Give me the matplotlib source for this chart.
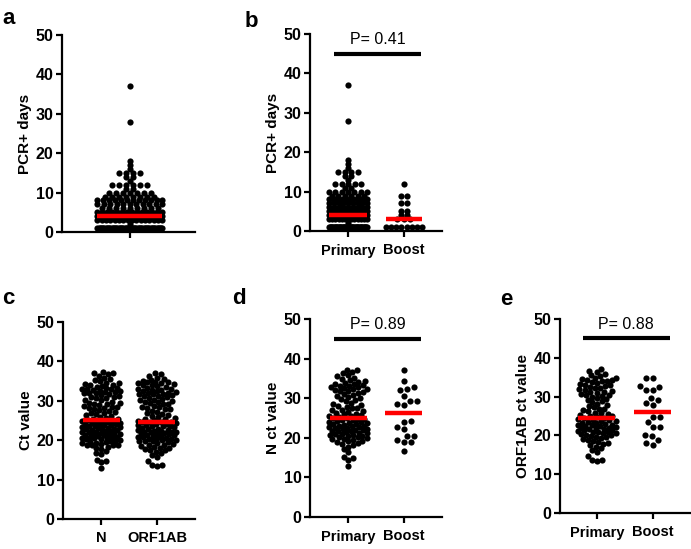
import numpy as np
import matplotlib
matplotlib.use("Agg")
import matplotlib.pyplot as plt

plt.rcParams['font.family'] = ['Liberation Sans', 'DejaVu Sans']

# ---------------- data ----------------
# PCR+ days (integer levels with counts)
pcr_levels = [1, 2, 3, 4, 5, 6, 7, 8, 9, 10, 11, 12, 13, 14, 15, 16, 17, 18, 28, 37]
pcr_primary_counts = [48, 1, 13, 15, 12, 9, 9, 12, 6, 7, 2, 5, 1, 2, 4, 1, 1, 1, 1, 1]
pcr_boost_counts = [8, 0, 3, 2, 2, 0, 2, 0, 2, 0, 0, 1, 0, 0, 0, 0, 0, 0, 0, 0]

n_ct_primary = [
    12.9, 14.5, 14.8, 15.1, 16.5, 17.2, 17.8, 18.1, 18.4, 18.7, 18.9,
    19.1, 19.3, 19.5, 19.6, 19.8, 19.9, 20.1, 20.2, 20.4, 20.5, 20.7, 20.8, 20.9,
    21.0, 21.2, 21.3, 21.4, 21.6, 21.7, 21.8, 21.9, 22.0, 22.2, 22.3, 22.4, 22.6,
    22.7, 22.8, 22.9, 23.0, 23.1, 23.3, 23.4, 23.6, 23.7, 23.8, 23.9,
    24.1, 24.2, 24.4, 24.5, 24.7, 24.8, 24.9,
    25.0, 25.2, 25.4, 25.5, 25.7, 25.9, 26.1, 26.3, 26.6, 26.8, 26.9,
    27.1, 27.4, 27.6, 27.9, 28.1, 28.4, 28.6, 28.9, 29.2, 29.5, 29.8,
    30.1, 30.3, 30.6, 30.9, 31.0, 31.3, 31.5, 31.7, 31.9,
    32.0, 32.2, 32.4, 32.6, 32.8, 32.9, 33.0, 33.2, 33.3, 33.5, 33.7, 33.9,
    34.1, 34.4, 34.6, 34.9, 35.2, 35.5, 35.8, 36.3, 36.7, 37.0, 37.2]
n_ct_boost = [37.0, 34.3, 32.9, 32.1, 32.2, 30.6, 29.4, 29.2, 28.2, 28.5,
              24.0, 24.3, 22.1, 22.8, 20.5, 20.5, 18.9, 19.4, 18.9, 16.7]

orf_ct_primary = [
    13.4, 13.6, 13.7, 14.6, 15.8, 16.3, 16.7, 17.1, 17.5, 17.8,
    18.0, 18.3, 18.6, 18.9, 19.0, 19.3, 19.5, 19.7, 19.9,
    20.0, 20.2, 20.3, 20.5, 20.6, 20.8, 20.9, 21.0, 21.1, 21.3, 21.4, 21.6, 21.7,
    21.8, 21.9, 22.0, 22.1, 22.3, 22.4, 22.6, 22.7, 22.8, 22.9,
    23.1, 23.3, 23.5, 23.6, 23.8, 23.9, 24.0, 24.2, 24.4, 24.5, 24.7, 24.9,
    25.1, 25.3, 25.5, 25.7, 25.9, 26.2, 26.5, 26.7, 26.9, 27.2, 27.5, 27.8,
    28.2, 28.5, 28.8, 29.1, 29.4, 29.6, 29.9, 30.1, 30.3, 30.5, 30.7, 30.9,
    31.1, 31.3, 31.5, 31.7, 31.9, 32.1, 32.3, 32.5, 32.7, 32.9,
    33.1, 33.3, 33.5, 33.7, 33.9, 34.0, 34.2, 34.4, 34.5, 34.7, 34.9,
    35.2, 35.5, 35.9, 36.3, 36.7, 37.0]
orf_ct_boost = [34.7, 34.7, 32.4, 32.8, 31.6, 31.7, 29.1, 27.8, 29.6, 28.3,
                24.7, 24.7, 23.5, 22.2, 22.2, 20.1, 19.8, 18.8, 17.5, 18.1]

# median lines
med_a = [4.0]
med_b = [4.0, 3.0]
med_c = [25.1, 24.6]
med_d = [25.1, 26.3]
med_e = [24.6, 26.1]

p_texts = {'b': 'P= 0.41', 'd': 'P= 0.89', 'e': 'P= 0.88'}
group_labels = ['Primary', 'Boost']
gene_labels = ['N', 'ORF1AB']

# ---------------- helpers ----------------
W, H = 691, 549
fig = plt.figure(figsize=(W / 100, H / 100), dpi=100)


def add_ax(x0, y_top, w, h):
    return fig.add_axes([x0 / W, 1 - (y_top + h) / H, w / W, h / H])


YPX = 197 / 50.0   # pixels per y unit
XPX = 56.0         # pixels per x unit
DOT_S = 20


def rows_layout(values, spacing_px, maxw_px):
    values = np.asarray(values)
    xs = np.zeros(len(values))
    for v in np.unique(values):
        idx = np.where(values == v)[0]
        n = len(idx)
        if n == 1:
            continue
        sp = min(spacing_px, maxw_px / (n - 1))
        offs = (np.arange(n) - (n - 1) / 2.0) * sp
        xs[idx] = offs / XPX
    return xs


def swarm_layout(values, d_px, maxw_px):
    values = np.asarray(values, dtype=float)
    xs = np.zeros(len(values))
    order = np.argsort(values, kind='stable')
    base = np.arange(0, maxw_px / 2 + 0.01, 0.5)
    cands = [0.0]
    for b in base[1:]:
        cands += [b, -b]
    placed_x, placed_y = [], []
    for k, i in enumerate(order):
        y = values[i] * YPX
        px = np.array(placed_x)
        py = np.array(placed_y)
        if len(px):
            m = np.abs(py - y) < d_px
            px, py = px[m], py[m]
        chosen = None
        best, bestd = 0.0, -1
        cc = cands if k % 2 == 0 else [-c for c in cands]
        for c in cc:
            if len(px) == 0:
                chosen = c
                break
            md = np.min(np.hypot(px - c, py - y))
            if md >= d_px:
                chosen = c
                break
            if md > bestd:
                bestd, best = md, c
        if chosen is None:
            chosen = best
        placed_x.append(chosen)
        placed_y.append(y)
        xs[i] = chosen / XPX
    return xs


def style(ax, xlim, xticks, xticklabels, ylabel):
    ax.set_ylim(0, 50)
    ax.set_xlim(*xlim)
    ax.set_yticks([0, 10, 20, 30, 40, 50])
    ax.set_xticks(xticks)
    ax.set_xticklabels(xticklabels, fontsize=10.5, fontweight='bold')
    for lab in ax.get_yticklabels():
        lab.set_fontweight('bold')
        lab.set_fontsize(11.5)
    for s in ['top', 'right']:
        ax.spines[s].set_visible(False)
    for s in ['left', 'bottom']:
        ax.spines[s].set_linewidth(1.6)
    ax.tick_params(axis='both', width=1.6, length=4, pad=2)
    ax.tick_params(axis='x', pad=5)
    ax.set_ylabel(ylabel, fontsize=11, fontweight='bold', labelpad=3)
    ax.patch.set_visible(False)


def dots(ax, x, y):
    ax.scatter(x, y, s=DOT_S, color='black', linewidths=0, zorder=2, clip_on=False)


def median_line(ax, xc, m, w):
    ax.hlines(m, xc - w / 2, xc + w / 2, color='#ff0000', lw=3.2, zorder=3)


def pbar(ax, text):
    ax.plot([-0.25, 1.3], [45, 45], color='black', lw=3, solid_capstyle='butt', clip_on=False)
    ax.text(0.525, 48.6, text, ha='center', va='center', fontsize=11.5, clip_on=False)


pcr_primary = np.repeat(pcr_levels, pcr_primary_counts)
pcr_boost = np.repeat(pcr_levels, pcr_boost_counts)
pcr_all = np.concatenate([pcr_primary, pcr_boost])

# ---- panel a ----
ax = add_ax(62, 35, 133, 197)
dots(ax, rows_layout(pcr_all, 7.0, 65), pcr_all)
median_line(ax, 0, med_a[0], 65 / XPX)
style(ax, (-1.21, 1.16), [0], [''], 'PCR+ days')

# ---- panel b ----
ax = add_ax(310, 34, 132, 197)
dots(ax, rows_layout(pcr_primary, 6.5, 38), pcr_primary)
dots(ax, 1 + rows_layout(pcr_boost, 6.5, 36), pcr_boost)
median_line(ax, 0, med_b[0], 38 / XPX)
median_line(ax, 1, med_b[1], 36 / XPX)
pbar(ax, p_texts['b'])
style(ax, (-0.68, 1.68), [0, 1], group_labels, 'PCR+ days')

# ---- panel c ----
n_all = n_ct_primary + n_ct_boost
orf_all = orf_ct_primary + orf_ct_boost
ax = add_ax(63, 322, 132, 197)
dots(ax, swarm_layout(n_all, 5.0, 38), n_all)
dots(ax, 1 + swarm_layout(orf_all, 5.0, 38), orf_all)
median_line(ax, 0, med_c[0], 37 / XPX)
median_line(ax, 1, med_c[1], 37 / XPX)
style(ax, (-0.68, 1.68), [0, 1], gene_labels, 'Ct value')

# ---- panel d ----
ax = add_ax(310, 319, 132, 198)
dots(ax, swarm_layout(n_ct_primary, 5.0, 38), n_ct_primary)
dots(ax, 1 + swarm_layout(n_ct_boost, 7.0, 36), n_ct_boost)
median_line(ax, 0, med_d[0], 37 / XPX)
median_line(ax, 1, med_d[1], 37 / XPX)
pbar(ax, p_texts['d'])
style(ax, (-0.68, 1.68), [0, 1], group_labels, 'N ct value')

# ---- panel e ----
ax = add_ax(560, 319, 131, 194)
dots(ax, swarm_layout(orf_ct_primary, 5.0, 38), orf_ct_primary)
dots(ax, 1 + swarm_layout(orf_ct_boost, 7.0, 36), orf_ct_boost)
median_line(ax, 0, med_e[0], 37 / XPX)
median_line(ax, 1, med_e[1], 37 / XPX)
pbar(ax, p_texts['e'])
style(ax, (-0.66, 1.68), [0, 1], group_labels, 'ORF1AB ct value')

# panel letters
for letter, x, y in [('a', 2, 24), ('b', 245, 27), ('c', 2, 304), ('d', 232, 304), ('e', 500, 305)]:
    fig.text(x / W, 1 - y / H, letter, fontsize=16, fontweight='bold', ha='left', va='baseline')

fig.savefig('out.png', dpi=100)
